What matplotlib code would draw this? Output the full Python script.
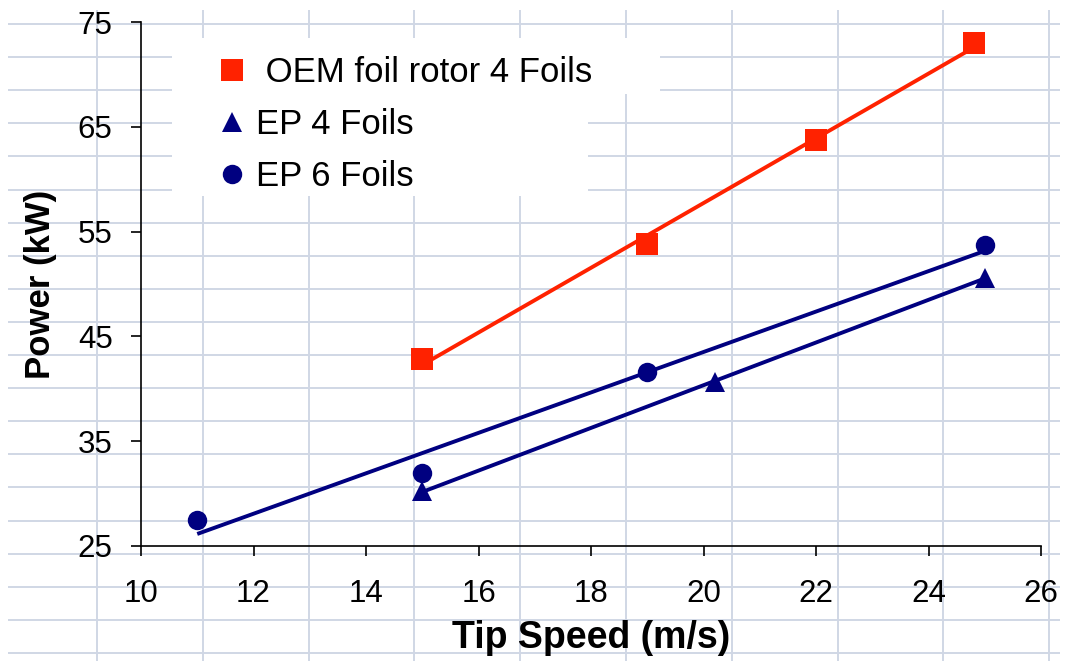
import numpy as np
import matplotlib
matplotlib.use("Agg")
import matplotlib.pyplot as plt
from matplotlib.patches import Rectangle

plt.rcParams['font.family'] = ['Liberation Sans', 'DejaVu Sans']

# data
oem_x = [15, 19, 22, 24.8]
oem_y = [42.8, 53.8, 63.8, 73.0]
ep4_x = [15, 20.2, 25]
ep4_y = [30.2, 40.6, 50.6]
ep6_x = [11, 15, 19, 25]
ep6_y = [27.5, 31.9, 41.6, 53.7]

labels = [" OEM foil rotor 4 Foils", "EP 4 Foils", "EP 6 Foils"]
x_ticks = np.arange(10, 27, 2)
y_ticks = np.arange(25, 76, 10)

red = '#FF2200'
navy = '#000080'
sheet_grid = '#D0D7E5'

W, H = 1067, 661
fig = plt.figure(figsize=(W / 100, H / 100), dpi=100)

# spreadsheet cell lines behind the chart (pixel coords)
bg = fig.add_axes([0, 0, 1, 1], zorder=0)
bg.set_xlim(0, W)
bg.set_ylim(H, 0)
bg.axis('off')
cols = 97 + 105.8 * np.arange(10)
rows = 24 + 33.1 * np.arange(20)
bg.hlines(rows, 8, 1060, color=sheet_grid, lw=1.4)
bg.vlines(cols, 10, H, color=sheet_grid, lw=1.4)
# white area behind the legend
bg.add_patch(Rectangle((172, 38), 488, 56, facecolor='white', edgecolor='none', zorder=3))
bg.add_patch(Rectangle((172, 38), 416, 158, facecolor='white', edgecolor='none', zorder=3))

# chart
left, right = 141 / W, 1041 / W
bottom, top = 1 - 545.7 / H, 1 - 22.3 / H
ax = fig.add_axes([left, bottom, right - left, top - bottom], zorder=1)
ax.set_facecolor('none')

series = [
    (oem_x, oem_y, red, 's', 15.5),
    (ep4_x, ep4_y, navy, '^', 14.5),
    (ep6_x, ep6_y, navy, 'o', 14.0),
]
for (xs, ys, c, m, ms), lab in zip(series, labels):
    k, b0 = np.polyfit(xs, ys, 1)
    xe = np.array([min(xs), max(xs)])
    ax.plot(xe, k * xe + b0, color=c, lw=2.8, zorder=2, solid_capstyle='butt')
    ax.plot(xs, ys, linestyle='none', marker=m, ms=ms, mew=0, color=c,
            label=lab, zorder=3, clip_on=False)

ax.set_xlim(10, 26)
ax.set_ylim(25, 75)
ax.set_xticks(x_ticks)
ax.set_yticks(y_ticks)
for s in ['top', 'right']:
    ax.spines[s].set_visible(False)
for s in ['left', 'bottom']:
    ax.spines[s].set_linewidth(1.2)
ax.tick_params(axis='both', direction='out', length=7, width=1.2,
               labelsize=22.5, pad=13.5, colors='black')
ax.tick_params(axis='x', pad=17)

ax.set_xlabel('Tip Speed (m/s)', fontsize=27, fontweight='bold', labelpad=8)
ax.set_ylabel('Power (kW)', fontsize=25, fontweight='bold', labelpad=15)

ax.legend(loc='upper left', bbox_to_anchor=(216 / W, 1 - 56 / H),
          bbox_transform=fig.transFigure, frameon=False, fontsize=25,
          borderpad=0, borderaxespad=0, handlelength=0.95, handletextpad=0.2,
          labelspacing=0.55, numpoints=1)

fig.savefig('out.png', dpi=100)
